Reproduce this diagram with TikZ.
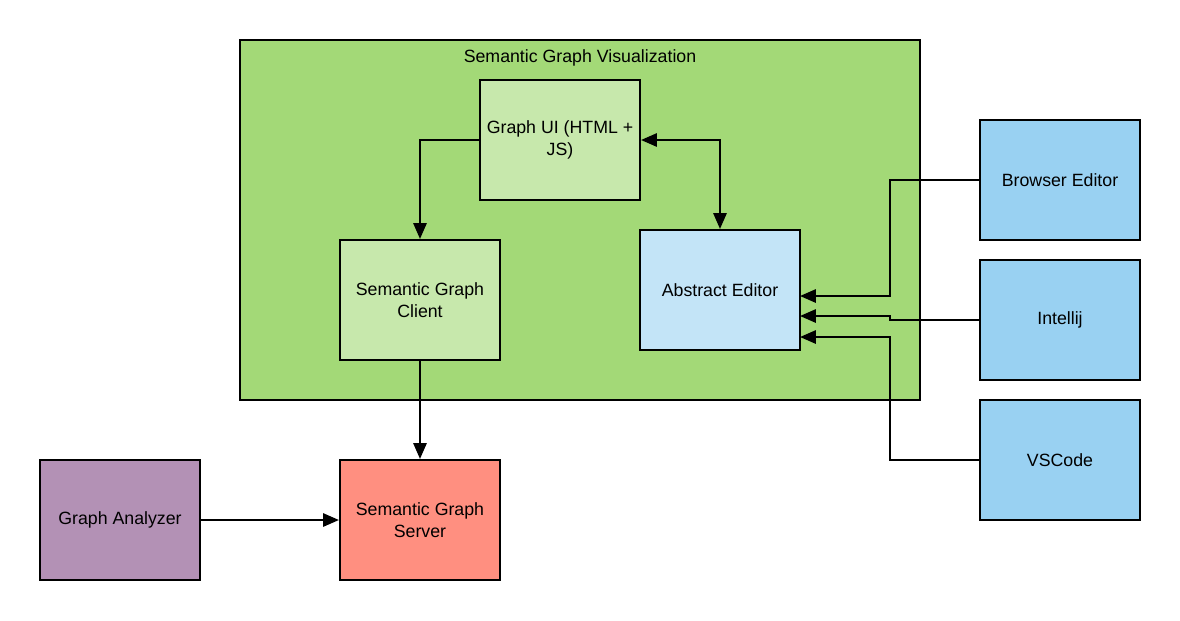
\documentclass[tikz,border=0pt]{standalone}
\usepackage{fontspec}
\setmainfont{Liberation Sans}
\usetikzlibrary{arrows.meta}
\definecolor{outergreen}{HTML}{A3D977}
\definecolor{lightgreen}{HTML}{C7E8AC}
\definecolor{lightblue}{HTML}{C3E4F7}
\definecolor{skyblue}{HTML}{99D1F2}
\definecolor{salmon}{HTML}{FF8F80}
\definecolor{mauve}{HTML}{B391B5}
\tikzset{
  box/.style={draw=black, line width=1.2pt, minimum width=3.2cm, minimum height=2.4cm,
    inner sep=2pt, align=center, font=\fontsize{10.1}{12.2}\selectfont},
  conn/.style={line width=1.2pt, -{Triangle[length=9pt,width=7.5pt]}},
  biconn/.style={line width=1.2pt, {Triangle[length=9pt,width=7.5pt]}-{Triangle[length=9pt,width=7.5pt]}},
}
\begin{document}
\begin{tikzpicture}[x=0.02cm,y=-0.02cm]
\useasboundingbox (0,0) rectangle (1180,620);
\node[draw=black, line width=1.2pt, fill=outergreen, minimum width=13.6cm, minimum height=7.2cm, inner sep=0pt] (vis) at (580,220) {};
\node[font=\fontsize{10.1}{12.2}\selectfont] (vistitle) at (580,58) {Semantic Graph Visualization};
\node[box, fill=lightgreen] (ui) at (560,140) {Graph UI (HTML +\\JS)};
\node[box, fill=lightgreen] (client) at (420,300) {Semantic Graph\\Client};
\node[box, fill=lightblue] (abs) at (720,290) {Abstract Editor};
\node[box, fill=skyblue] (browser) at (1060,180) {Browser Editor};
\node[box, fill=skyblue] (intellij) at (1060,320) {Intellij};
\node[box, fill=skyblue] (vscode) at (1060,460) {VSCode};
\node[box, fill=mauve] (analyzer) at (120,520) {Graph Analyzer};
\node[box, fill=salmon] (server) at (420,520) {Semantic Graph\\Server};
\coordinate (bIn) at (800,296);
\coordinate (iIn) at (800,316);
\coordinate (vIn) at (800,337);
\draw[conn] (ui.west) -| (client.north);
\draw[biconn] (ui.east) -| (abs.north);
\draw[conn] (client.south) -- (server.north);
\draw[conn] (analyzer.east) -- (server.west);
\draw[conn] (browser.west) -- (890,180) -- (890,296) -- (bIn);
\draw[conn] (intellij.west) -- (890,320) -- (890,316) -- (iIn);
\draw[conn] (vscode.west) -- (890,460) -- (890,337) -- (vIn);
\end{tikzpicture}
\end{document}
